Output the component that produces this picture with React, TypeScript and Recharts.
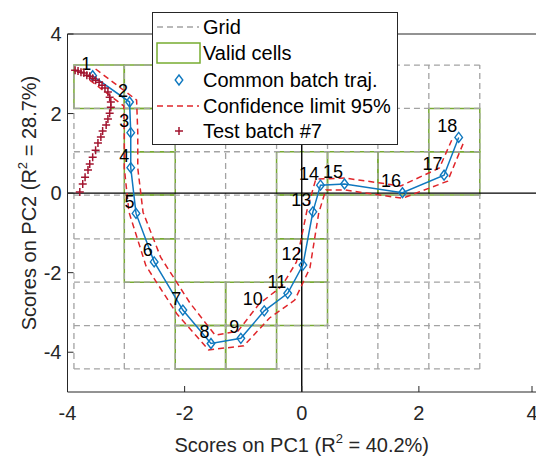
import {
  Legend,
  ReferenceArea,
  ReferenceLine,
  Scatter,
  ScatterChart,
  XAxis,
  YAxis,
} from "recharts";

// Cell grid boundaries on the score plane
const GRID_X = [-3.89, -3.03, -2.16, -1.3, -0.43, 0.44, 1.3, 2.17, 3.04];
const GRID_Y = [3.22, 2.13, 1.04, -0.05, -1.15, -2.24, -3.33, -4.42];

// Valid cells as [column, row] into the grid above
const VALID_CELLS: [number, number][] = [
  [0, 0], [1, 0],
  [1, 1], [7, 1],
  [1, 2], [4, 2], [5, 2], [6, 2], [7, 2],
  [1, 3], [4, 3],
  [1, 4], [4, 4],
  [2, 5], [3, 5], [4, 5],
  [2, 6], [3, 6],
];

// Common batch trajectory (scores on PC1 / PC2)
const TRAJ_X = [-3.57, -2.94, -2.92, -2.92, -2.83, -2.52, -2.03, -1.55, -1.04, -0.64, -0.24, 0.02, 0.19, 0.32, 0.73, 1.72, 2.43, 2.68];
const TRAJ_Y = [2.95, 2.29, 1.52, 0.64, -0.51, -1.73, -2.94, -3.78, -3.65, -2.96, -2.52, -1.81, -0.47, 0.2, 0.23, 0.01, 0.45, 1.4];

// 95% confidence limits, outer and inner side of the trajectory
const OUTER_X = [-3.62, -3.04, -3.03, -3.03, -2.95, -2.66, -2.13, -1.59, -0.99, -0.55, -0.12, 0.14, 0.29, 0.41, 0.73, 1.72, 2.49, 2.78];
const OUTER_Y = [2.84, 2.19, 1.51, 0.63, -0.48, -1.83, -3.04, -3.94, -3.84, -3.14, -2.69, -1.88, -0.5, 0.08, 0.08, -0.13, 0.3, 1.33];
const INNER_X = [-3.52, -2.82, -2.8, -2.8, -2.71, -2.41, -1.91, -1.48, -1.09, -0.73, -0.34, -0.09, 0.09, 0.24, 0.73, 1.69, 2.35, 2.56];
const INNER_Y = [3.12, 2.34, 1.51, 0.63, -0.48, -1.61, -2.76, -3.57, -3.47, -2.79, -2.34, -1.73, -0.43, 0.35, 0.38, 0.18, 0.63, 1.33];

// Test batch #7
const TEST_X = [-3.87, -3.82, -3.77, -3.72, -3.67, -3.62, -3.57, -3.52, -3.46, -3.41, -3.36, -3.31, -3.28, -3.26, -3.26, -3.28, -3.31, -3.34, -3.4, -3.43, -3.48, -3.52, -3.57, -3.62, -3.65, -3.7, -3.74, -3.79];
const TEST_Y = [3.09, 3.07, 3.04, 3.02, 2.96, 2.94, 2.89, 2.84, 2.79, 2.71, 2.64, 2.54, 2.41, 2.29, 2.16, 2.01, 1.86, 1.71, 1.56, 1.41, 1.26, 1.08, 0.9, 0.73, 0.58, 0.4, 0.23, 0.03];

const X_TICKS = [-4, -2, 0, 2, 4];
const Y_TICKS = [-4, -2, 0, 2, 4];

const AXIS = "#262626";
const GRID = "#a3a3a3";
const GREEN = "#77AC30";
const BLUE = "#0f78bf";
const RED = "#e0262b";
const TEST = "#A2142F";
const FONT = "'Liberation Sans', Arial, Helvetica, sans-serif";

const traj = TRAJ_X.map((x, i) => ({ x, y: TRAJ_Y[i], n: i + 1 }));
const outer = OUTER_X.map((x, i) => ({ x, y: OUTER_Y[i] }));
const inner = INNER_X.map((x, i) => ({ x, y: INNER_Y[i] }));
const test = TEST_X.map((x, i) => ({ x, y: TEST_Y[i] }));

const gridLeft = GRID_X[0];
const gridRight = GRID_X[GRID_X.length - 1];
const gridTop = GRID_Y[0];
const gridBottom = GRID_Y[GRID_Y.length - 1];

const Diamond = (p: any) => (
  <g>
    <path
      d={`M${p.cx},${p.cy - 5}L${p.cx + 3.8},${p.cy}L${p.cx},${p.cy + 5}L${p.cx - 3.8},${p.cy}Z`}
      fill="none"
      stroke={BLUE}
      strokeWidth={1.4}
    />
    <text x={p.cx - 1.5} y={p.cy - 5.5} textAnchor="end" fontSize={18} fill="#000" fontFamily={FONT}>
      {p.payload.n}
    </text>
  </g>
);

const Cross = (p: any) => (
  <path
    d={`M${p.cx - 4},${p.cy}H${p.cx + 4}M${p.cx},${p.cy - 4}V${p.cy + 4}`}
    stroke={TEST}
    strokeWidth={1.5}
  />
);

const NoMarker = () => <g />;

// inward ticks for a MATLAB-style box
const BottomTick = ({ x, y, payload }: any) => (
  <g>
    <line x1={x} y1={y} x2={x} y2={y - 6} stroke={AXIS} />
    <text x={x} y={y + 28} textAnchor="middle" fontSize={20} fill={AXIS} fontFamily={FONT}>
      {payload.value}
    </text>
  </g>
);
const TopTick = ({ x, y }: any) => <line x1={x} y1={y} x2={x} y2={y + 6} stroke={AXIS} />;
const LeftTick = ({ x, y, payload }: any) => (
  <g>
    <line x1={x} y1={y} x2={x + 6} y2={y} stroke={AXIS} />
    <text x={x - 6} y={y + 7} textAnchor="end" fontSize={20} fill={AXIS} fontFamily={FONT}>
      {payload.value}
    </text>
  </g>
);
const RightTick = ({ x, y }: any) => <line x1={x} y1={y} x2={x - 6} y2={y} stroke={AXIS} />;

const XTitle = ({ viewBox }: any) => (
  <text x={viewBox.x + viewBox.width / 2} y={viewBox.y + 60} textAnchor="middle" fontSize={20} fill={AXIS} fontFamily={FONT}>
    Scores on PC1 (R<tspan fontSize={13} dy={-9}>2</tspan>
    <tspan dy={9}> = 40.2%)</tspan>
  </text>
);

const YTitle = () => {
  const cx = 36;
  const cy = 203;
  return (
    <text x={cx} y={cy} transform={`rotate(-90 ${cx} ${cy})`} textAnchor="middle" fontSize={20} fill={AXIS} fontFamily={FONT}>
      Scores on PC2 (R<tspan fontSize={13} dy={-9}>2</tspan>
      <tspan dy={9}> = 28.7%)</tspan>
    </text>
  );
};

const LegendBox = () => {
  const rows = [15, 41, 68, 94, 119];
  const label = (y: number, t: string) => (
    <text x={51} y={y + 7} fontSize={20} fill="#000" fontFamily={FONT}>
      {t}
    </text>
  );
  return (
    <svg width={247} height={134} style={{ display: "block" }}>
      <rect x={0.5} y={0.5} width={245} height={132} fill="#fff" stroke={AXIS} />
      <line x1={5} x2={47} y1={rows[0]} y2={rows[0]} stroke={GRID} strokeWidth={1.3} strokeDasharray="6 4" />
      {label(rows[0], "Grid")}
      <rect x={5} y={rows[1] - 10} width={43} height={20} fill="none" stroke={GREEN} strokeWidth={1.5} />
      {label(rows[1], "Valid cells")}
      <path d={`M27,${rows[2] - 5}L30.8,${rows[2]}L27,${rows[2] + 5}L23.2,${rows[2]}Z`} fill="none" stroke={BLUE} strokeWidth={1.4} />
      {label(rows[2], "Common batch traj.")}
      <line x1={5} x2={47} y1={rows[3]} y2={rows[3]} stroke={RED} strokeWidth={1.5} strokeDasharray="6 4" />
      {label(rows[3], "Confidence limit 95%")}
      <path d={`M23,${rows[4]}H31M27,${rows[4] - 4}V${rows[4] + 4}`} stroke={TEST} strokeWidth={1.5} />
      {label(rows[4], "Test batch #7")}
    </svg>
  );
};

export default function App() {
  return (
    <div style={{ position: "absolute", left: 0, top: 0, fontFamily: FONT }}>
      <ScatterChart width={536} height={457} margin={{ top: 0, right: 0, bottom: 0, left: 0 }}>
        <XAxis
          type="number"
          dataKey="x"
          domain={[-4, 4]}
          ticks={X_TICKS}
          allowDataOverflow
          height={65}
          tickSize={0}
          tickMargin={0}
          tickLine={false}
          axisLine={{ stroke: AXIS }}
          tick={<BottomTick />}
          label={{ content: XTitle }}
        />
        <XAxis
          xAxisId="top"
          orientation="top"
          type="number"
          domain={[-4, 4]}
          ticks={X_TICKS}
          allowDataOverflow
          height={34}
          tickSize={0}
          tickMargin={0}
          tickLine={false}
          axisLine={{ stroke: AXIS }}
          tick={<TopTick />}
        />
        <YAxis
          type="number"
          dataKey="y"
          domain={[-5, 4]}
          ticks={Y_TICKS}
          allowDataOverflow
          width={67.5}
          tickSize={0}
          tickMargin={0}
          tickLine={false}
          axisLine={{ stroke: AXIS }}
          tick={<LeftTick />}
          label={{ content: YTitle }}
        />
        <YAxis
          yAxisId="right"
          orientation="right"
          type="number"
          domain={[-5, 4]}
          ticks={Y_TICKS}
          allowDataOverflow
          width={0}
          tickSize={0}
          tickMargin={0}
          tickLine={false}
          axisLine={{ stroke: AXIS }}
          tick={<RightTick />}
        />

        {GRID_X.map((gx) => (
          <ReferenceLine
            key={`gx${gx}`}
            segment={[{ x: gx, y: gridBottom }, { x: gx, y: gridTop }]}
            stroke={GRID}
            strokeWidth={1.3}
            strokeDasharray="6 4"
          />
        ))}
        {GRID_Y.map((gy) => (
          <ReferenceLine
            key={`gy${gy}`}
            segment={[{ x: gridLeft, y: gy }, { x: gridRight, y: gy }]}
            stroke={GRID}
            strokeWidth={1.3}
            strokeDasharray="6 4"
          />
        ))}
        {VALID_CELLS.map(([c, r]) => (
          <ReferenceArea
            key={`c${c}-${r}`}
            x1={GRID_X[c]}
            x2={GRID_X[c + 1]}
            y1={GRID_Y[r + 1]}
            y2={GRID_Y[r]}
            fill="none"
            stroke={GREEN}
            strokeWidth={1.5}
          />
        ))}
        <ReferenceLine x={0} stroke="#000" strokeWidth={1.4} />
        <ReferenceLine y={0} stroke="#000" strokeWidth={1.4} />

        <Scatter
          data={outer}
          line={{ stroke: RED, strokeWidth: 1.5, strokeDasharray: "6 4" }}
          shape={NoMarker}
          isAnimationActive={false}
        />
        <Scatter
          data={inner}
          line={{ stroke: RED, strokeWidth: 1.5, strokeDasharray: "6 4" }}
          shape={NoMarker}
          isAnimationActive={false}
        />
        <Scatter
          data={traj}
          line={{ stroke: BLUE, strokeWidth: 1.5 }}
          shape={Diamond}
          isAnimationActive={false}
        />
        <Scatter data={test} shape={Cross} isAnimationActive={false} />

        <Legend
          layout="vertical"
          align="center"
          verticalAlign="middle"
          content={LegendBox}
          wrapperStyle={{ left: 152, top: 12, width: 247, height: 134 }}
        />
      </ScatterChart>
    </div>
  );
}
